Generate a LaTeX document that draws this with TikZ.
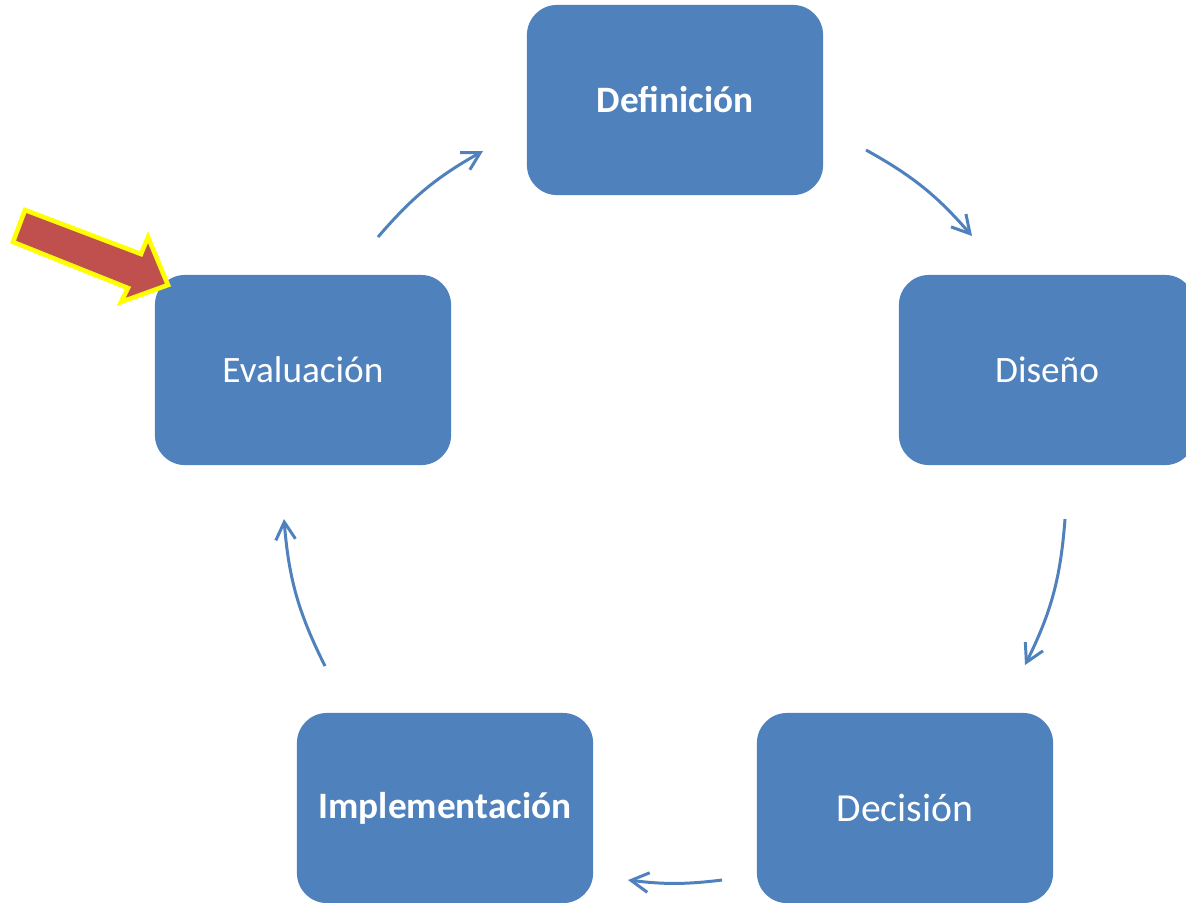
\documentclass[tikz,border=0pt]{standalone}
\usepackage{fontspec}
\setmainfont{Carlito}
\usetikzlibrary{arrows.meta, positioning}
\definecolor{boxblue}{HTML}{4F81BD}
\definecolor{markred}{HTML}{C0504D}
\definecolor{markyellow}{HTML}{FFFF00}
\tikzset{>={Straight Barb[length=5pt, width=5.6pt]}, x=0.01cm, y=-0.01cm}
\tikzset{
  stage/.style={fill=boxblue, rounded corners=0.3cm, minimum width=2.96cm,
    minimum height=1.90cm, text=white, font=\fontsize{10.6}{13}\selectfont},
  keystage/.style={stage, font=\fontsize{10.6}{13}\selectfont\bfseries},
  flow/.style={->, draw=boxblue, line width=0.85pt},
  pointer/.style={fill=markred, draw=markyellow, line width=1.3pt}
}

\begin{document}
\begin{tikzpicture}
    \useasboundingbox (0,0) rectangle (1186,902);
    \clip (0,0) rectangle (1186,902);
    \node[keystage] (def) at (675,100) {Definición};
    \node[stage] (dis) at (1047,370) {Diseño};
    \node[stage, font=\fontsize{11.3}{14}\selectfont] (dec) at (905,808) {Decisión};
    \node[keystage] (imp) at (445,808) {Implementación};
    \node[stage] (eva) at (303,370) {Evaluación};
    % ends of the cycle arrows
    \coordinate (eva-out) at (378,237);
    \coordinate (def-in) at (483,151);
    \coordinate (def-out) at (866,150);
    \coordinate (dis-in) at (972,236);
    \coordinate (dis-out) at (1065,519);
    \coordinate (dec-in) at (1025,665);
    \coordinate (dec-out) at (722,880);
    \coordinate (imp-in) at (628,880);
    \coordinate (imp-out) at (325,666);
    \coordinate (eva-in) at (284,519);
    \draw[flow] (eva-out) to[bend left=10] (def-in);
    \draw[flow] (def-out) to[bend left=10] (dis-in);
    \draw[flow] (dis-out) to[bend left=11] (dec-in);
    \draw[flow] (dec-out) to[bend left=7] (imp-in);
    \draw[flow] (imp-out) to[bend left=11] (eva-in);
    % marker pointing at Evaluacion
    \draw[pointer] (25,210) -- (141,254) -- (148,237) -- (168,285)
        -- (121,302) -- (128,288) -- (13,242) -- cycle;
\end{tikzpicture}
\end{document}
